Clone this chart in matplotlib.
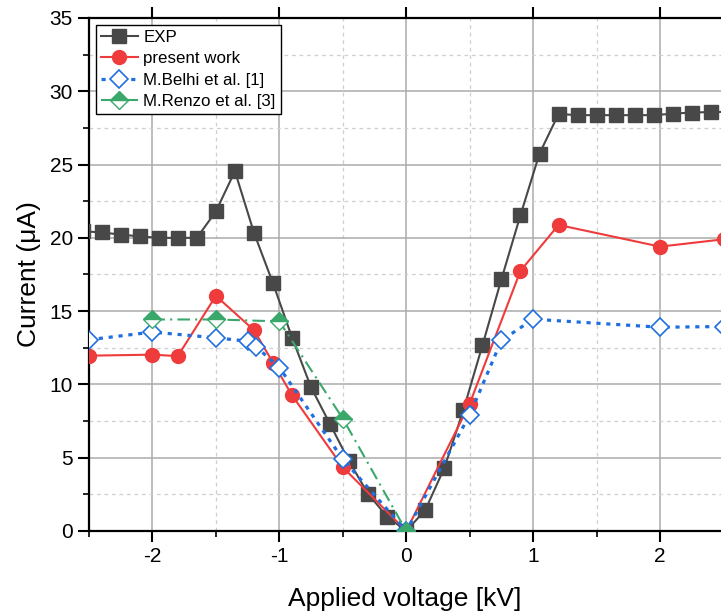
import matplotlib
matplotlib.use('Agg')
import matplotlib.pyplot as plt
from matplotlib.ticker import MultipleLocator

plt.rcParams['font.family'] = ['Liberation Sans', 'DejaVu Sans']
plt.rcParams['axes.unicode_minus'] = False

# EXP (black squares)
exp_v = [-2.55, -2.4, -2.25, -2.1, -1.95, -1.8, -1.65, -1.5, -1.35, -1.2, -1.05, -0.9, -0.75,
         -0.6, -0.45, -0.3, -0.15, 0.0, 0.15, 0.3, 0.45, 0.6, 0.75, 0.9, 1.05, 1.2, 1.35,
         1.5, 1.65, 1.8, 1.95, 2.1, 2.25, 2.4, 2.55]
exp_i = [20.45, 20.37, 20.22, 20.1, 20.0, 20.0, 20.0, 21.8, 24.55, 20.35, 16.9, 13.2, 9.8,
         7.28, 4.75, 2.52, 0.97, 0.0, 1.43, 4.3, 8.24, 12.66, 17.18, 21.55, 25.75, 28.45, 28.37,
         28.37, 28.37, 28.37, 28.37, 28.47, 28.55, 28.58, 28.6]

# present work (red circles)
pw_v = [-2.5, -2.0, -1.8, -1.5, -1.2, -1.05, -0.9, -0.5, 0.0, 0.5, 0.9, 1.2, 2.0, 2.5]
pw_i = [11.96, 12.03, 11.93, 16.04, 13.7, 11.48, 9.26, 4.35, 0.0, 8.69, 17.75, 20.88, 19.4, 19.9]

# M.Belhi et al. [1] (open blue diamonds)
belhi_v = [-2.5, -2.0, -1.5, -1.25, -1.18, -1.0, -0.5, 0.0, 0.5, 0.75, 1.0, 2.0, 2.5]
belhi_i = [13.05, 13.57, 13.18, 12.95, 12.55, 11.15, 4.9, 0.0, 7.92, 13.0, 14.45, 13.9, 13.95]

# M.Renzo et al. [3] (half-filled green diamonds)
renzo_v = [-2.0, -1.5, -1.0, -0.5, 0.0]
renzo_i = [14.43, 14.43, 14.3, 7.67, 0.0]

fig = plt.figure(figsize=(7.21, 6.12), dpi=100)
ax = fig.add_axes([0.1234, 0.1324, 0.8766, 0.8382])

ax.plot(exp_v, exp_i, color='#484848', lw=1.5, marker='s', markersize=9.5,
        label='EXP', zorder=3)
ax.plot(pw_v, pw_i, color='#ef3b3b', lw=1.5, marker='o', markersize=10,
        label='present work', zorder=4)
ax.plot(belhi_v, belhi_i, color='#1f6fe0', lw=2.3, linestyle=(0, (1.3, 1.8)),
        marker='D', markersize=9, markerfacecolor='white', markeredgecolor='#1f6fe0',
        markeredgewidth=1.2, label='M.Belhi et al. [1]', zorder=5)
ax.plot(renzo_v, renzo_i, color='#3aa86b', lw=1.5, linestyle=(0, (6, 2.5, 1, 2.5)),
        marker='D', markersize=9, fillstyle='top', markerfacecolor='#3aa86b',
        markerfacecoloralt='white', markeredgecolor='#3aa86b', markeredgewidth=1.0,
        label='M.Renzo et al. [3]', zorder=6)

ax.set_xlim(-2.5, 2.48)
ax.set_ylim(0, 35)
ax.xaxis.set_major_locator(MultipleLocator(1))
ax.xaxis.set_minor_locator(MultipleLocator(0.5))
ax.yaxis.set_major_locator(MultipleLocator(5))
ax.yaxis.set_minor_locator(MultipleLocator(2.5))

ax.grid(which='major', color='#ababab', lw=1.1, linestyle='-')
ax.grid(which='minor', color='#cfcfcf', lw=0.9, linestyle=(0, (3, 3)))
ax.set_axisbelow(True)

for side in ['left', 'bottom', 'top']:
    ax.spines[side].set_linewidth(1.6)
ax.spines['right'].set_visible(False)

ax.tick_params(which='major', direction='out', length=8, width=1.5, labelsize=15,
               top=True, labeltop=False)
ax.tick_params(which='minor', direction='out', length=4, width=1.2, top=False)

ax.set_xlabel('Applied voltage [kV]', fontsize=19, labelpad=15)
ax.set_ylabel('Current (\u03bcA)', fontsize=19, labelpad=6)

leg = ax.legend(loc='upper left', bbox_to_anchor=(0.0, 1.0), fontsize=12.2,
                frameon=True, fancybox=False, edgecolor='black', framealpha=1,
                borderaxespad=0.4, handlelength=2.2, labelspacing=0.38,
                borderpad=0.3, handletextpad=0.3)
leg.get_frame().set_linewidth(1.0)

fig.savefig('out.png', dpi=100)
